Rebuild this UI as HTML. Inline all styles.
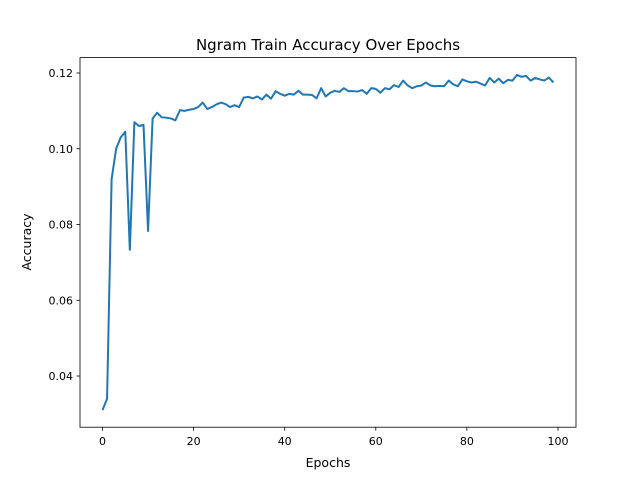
<!DOCTYPE html>
<html><head><meta charset="utf-8"><style>
body{margin:0;background:#fff;font-family:"Liberation Sans","DejaVu Sans",sans-serif}
svg text{font-family:"DejaVu Sans","Liberation Sans",sans-serif;fill:#000}
</style></head><body>
<svg id="chart" width="640" height="480" xmlns="http://www.w3.org/2000/svg">
<rect width="640" height="480" fill="#fff"/>
<text x="328" y="50" font-size="15" text-anchor="middle">Ngram Train Accuracy Over Epochs</text>
<text x="328" y="467" font-size="12.5" text-anchor="middle">Epochs</text>
<text transform="translate(31,242) rotate(-90)" font-size="12.5" text-anchor="middle">Accuracy</text>
<g id="ticks"></g>
<path id="line" fill="none" stroke="#1f77b4" stroke-width="2" stroke-linejoin="round"/>
<rect x="80" y="57.6" width="496" height="369.6" fill="none" stroke="#000" stroke-width="0.8"/>
</svg>
<script>
const accuracy=[0.031,0.034,0.092,0.100,0.103,0.1045,0.0733,0.107,0.106,0.1063,0.0783,0.108,0.1095,0.1083,0.1082,0.108,0.1075,0.1102,0.110,0.1103,0.1105,0.111,0.1122,0.1105,0.111,0.1117,0.1122,0.1118,0.111,0.1115,0.111,0.1135,0.1137,0.1133,0.1138,0.113,0.1143,0.1132,0.1152,0.1145,0.114,0.1145,0.1143,0.1153,0.1143,0.1143,0.1142,0.1133,0.116,0.1138,0.1148,0.1153,0.115,0.116,0.1152,0.1152,0.1151,0.1155,0.1145,0.116,0.1158,0.1148,0.116,0.1157,0.1168,0.1163,0.118,0.1167,0.116,0.1165,0.1167,0.1175,0.1167,0.1165,0.1166,0.1165,0.118,0.117,0.1165,0.1183,0.1178,0.1175,0.1177,0.1172,0.1167,0.1187,0.1175,0.1185,0.1173,0.1182,0.118,0.1195,0.119,0.1192,0.118,0.1187,0.1183,0.118,0.1188,0.1175];
const xTicks=[0,20,40,60,80,100];
const yTicks=[0.04,0.06,0.08,0.10,0.12];
const yLabels=["0.04","0.06","0.08","0.10","0.12"];
const sx=v=>102.5+v*4.555;
const sy=v=>73-(v-0.12)*3787.5;
const NS="http://www.w3.org/2000/svg";
const g=document.getElementById('ticks');
function mk(tag,attrs){const e=document.createElementNS(NS,tag);for(const k in attrs)e.setAttribute(k,attrs[k]);g.appendChild(e);return e;}
xTicks.forEach(t=>{
  const l=mk('line',{x1:sx(t),x2:sx(t),y1:427.2,y2:430.7,stroke:'#000','stroke-width':0.8});
  
  
  const tx=mk('text',{x:sx(t),y:445,'font-size':11,'text-anchor':'middle'});
  tx.textContent=t;
  
  
});
yTicks.forEach((t,i)=>{
  const l=mk('line',{x1:76.5,x2:80,y1:sy(t),y2:sy(t),stroke:'#000','stroke-width':0.8});
  
  
  const tx=mk('text',{x:73,y:sy(t)+4,'font-size':11,'text-anchor':'end'});
  tx.textContent=yLabels[i];
  
  
});
document.getElementById('line').setAttribute('d',accuracy.map((v,i)=>(i?'L':'M')+sx(i).toFixed(2)+','+sy(v).toFixed(2)).join(''));
</script>
</body></html>
